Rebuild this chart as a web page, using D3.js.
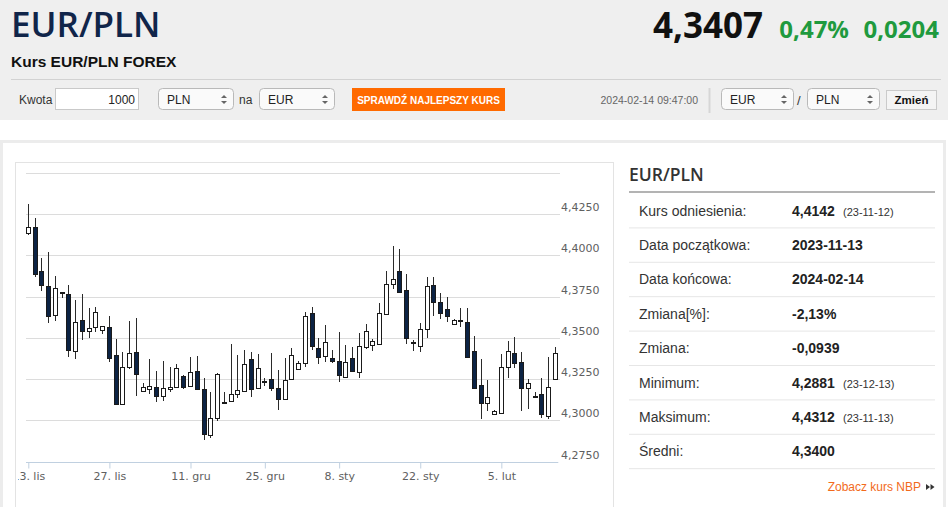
<!DOCTYPE html>
<html>
<head>
<meta charset="utf-8">
<script src="https://cdn.jsdelivr.net/npm/d3@7"></script>
<style>
  html, body { margin: 0; padding: 0; background: #fff; overflow: hidden; }
  svg { display: block; }
</style>
</head>
<body>
<div id="chart"></div>
<script>
// trading days (forex: Sunday to Friday)
const dates = [
  "2023-11-13","2023-11-14","2023-11-15","2023-11-16","2023-11-17","2023-11-19",
  "2023-11-20","2023-11-21","2023-11-22","2023-11-23","2023-11-24","2023-11-26",
  "2023-11-27","2023-11-28","2023-11-29","2023-11-30","2023-12-01","2023-12-03",
  "2023-12-04","2023-12-05","2023-12-06","2023-12-07","2023-12-08","2023-12-10",
  "2023-12-11","2023-12-12","2023-12-13","2023-12-14","2023-12-15","2023-12-17",
  "2023-12-18","2023-12-19","2023-12-20","2023-12-21","2023-12-22",
  "2023-12-25","2023-12-26","2023-12-27","2023-12-28","2023-12-29",
  "2024-01-01","2024-01-02","2024-01-03","2024-01-04","2024-01-05","2024-01-07",
  "2024-01-08","2024-01-09","2024-01-10","2024-01-11","2024-01-12","2024-01-14",
  "2024-01-15","2024-01-16","2024-01-17","2024-01-18","2024-01-19","2024-01-21",
  "2024-01-22","2024-01-23","2024-01-24","2024-01-25","2024-01-26","2024-01-28",
  "2024-01-29","2024-01-30","2024-01-31","2024-02-01","2024-02-02","2024-02-04",
  "2024-02-05","2024-02-06","2024-02-07","2024-02-08","2024-02-09","2024-02-11",
  "2024-02-12","2024-02-13","2024-02-14"
];

const openVals = [
  4.4135,4.4171,4.3906,4.3814,4.3636,4.3778,4.3765,4.3418,4.3607,4.3539,4.3565,4.3547,
  4.3565,4.3395,4.3101,4.3323,4.3413,4.3176,4.3190,4.3204,4.3145,4.3189,4.3201,4.3269,
  4.3210,4.3299,4.3188,4.2911,4.3016,4.3108,4.3115,4.3162,4.3180,4.3370,4.3198,
  4.3239,4.3253,4.3198,4.3127,4.3253,
  4.3311,4.3348,4.3649,4.3441,4.3388,4.3376,4.3360,4.3261,4.3376,4.3295,4.3445,4.3457,
  4.3463,4.3643,4.3829,4.3906,4.3789,4.3476,4.3451,4.3552,4.3821,4.3718,4.3674,4.3587,
  4.3609,4.3599,4.3422,4.3214,4.3103,4.3038,4.3042,4.3322,4.3406,4.3352,4.3194,4.3145,
  4.3158,4.3026,4.3249
];
const highVals = [
  4.4312,4.4226,4.3983,4.4020,4.3878,4.3780,4.3822,4.3731,4.3767,4.3684,4.3688,4.3575,
  4.3632,4.3494,4.3413,4.3601,4.3619,4.3228,4.3371,4.3299,4.3357,4.3324,4.3341,4.3276,
  4.3382,4.3388,4.3259,4.3174,4.3285,4.3170,4.3465,4.3394,4.3424,4.3413,4.3400,
  4.3259,4.3407,4.3307,4.3376,4.3437,
  4.3362,4.3659,4.3690,4.3502,4.3578,4.3425,4.3538,4.3457,4.3447,4.3528,4.3582,4.3494,
  4.3714,4.3908,4.4058,4.4040,4.3886,4.3486,4.3590,4.3868,4.3868,4.3771,4.3746,4.3615,
  4.3680,4.3684,4.3512,4.3372,4.3244,4.3062,4.3404,4.3482,4.3506,4.3413,4.3250,4.3174,
  4.3259,4.3382,4.3443
];
const lowVals = [
  4.4125,4.3872,4.3787,4.3589,4.3603,4.3741,4.3387,4.3371,4.3486,4.3498,4.3535,4.3523,
  4.3351,4.3090,4.3100,4.3311,4.3149,4.3174,4.3161,4.3113,4.3119,4.3169,4.3195,4.3190,
  4.3204,4.3186,4.2881,4.2891,4.2996,4.3103,4.3114,4.3137,4.3178,4.3139,4.3195,
  4.3211,4.3178,4.3062,4.3127,4.3252,
  4.3310,4.3323,4.3427,4.3340,4.3352,4.3346,4.3230,4.3260,4.3291,4.3255,4.3433,4.3421,
  4.3462,4.3642,4.3795,4.3775,4.3463,4.3421,4.3415,4.3502,4.3635,4.3613,4.3599,4.3586,
  4.3567,4.3382,4.3194,4.3008,4.3056,4.3037,4.3041,4.3255,4.3316,4.3056,4.3070,4.3142,
  4.3016,4.3006,4.3248
];
const closeVals = [
  4.4170,4.3888,4.3822,4.3630,4.3801,4.3779,4.3424,4.3599,4.3539,4.3559,4.3656,4.3571,
  4.3381,4.3100,4.3322,4.3407,4.3282,4.3200,4.3206,4.3145,4.3196,4.3204,4.3316,4.3204,
  4.3291,4.3192,4.2915,4.3016,4.3283,4.3110,4.3158,4.3182,4.3341,4.3188,4.3316,
  4.3240,4.3194,4.3127,4.3247,4.3394,
  4.3346,4.3635,4.3453,4.3386,4.3477,4.3358,4.3275,4.3352,4.3301,4.3453,4.3540,4.3484,
  4.3649,4.3829,4.3860,4.3777,4.3498,4.3477,4.3552,4.3815,4.3716,4.3653,4.3635,4.3607,
  4.3610,4.3382,4.3194,4.3103,4.3141,4.3058,4.3322,4.3418,4.3347,4.3194,4.3229,4.3142,
  4.3038,4.3204,4.3407
];

const yTicks = [4.275, 4.300, 4.325, 4.350, 4.375, 4.400, 4.425, 4.450];
const xTickDates = ["2023-11-13","2023-11-27","2023-12-11","2023-12-25","2024-01-08","2024-01-22","2024-02-05"];
const monthsPl = ["sty","lut","mar","kwi","maj","cze","lip","sie","wrz","paź","lis","gru"];

const statLabels = ["Kurs odniesienia:","Data początkowa:","Data końcowa:","Zmiana[%]:","Zmiana:","Minimum:","Maksimum:","Średni:"];
const statValues = ["4,4142","2023-11-13","2024-02-14","-2,13%","-0,0939","4,2881","4,4312","4,3400"];
const statDates  = ["(23-11-12)","","","","","(23-12-13)","(23-11-13)",""];

const W = 948, H = 507;
const svg = d3.select("#chart").append("svg")
  .attr("width", W).attr("height", H);

const sans = "'Liberation Sans', Arial, sans-serif";
const open = "'Open Sans', sans-serif";
const axisFont = "'DejaVu Sans', Verdana, sans-serif";

// ---------- header ----------
svg.append("rect").attr("x", 0).attr("y", 0).attr("width", W).attr("height", 120).attr("fill", "#efefef");

svg.append("text").attr("x", 11).attr("y", 37)
  .style("font-family", open).style("font-weight", 600).style("font-size", "35px")
  .attr("fill", "#10254a").text("EUR/PLN");
svg.append("text").attr("x", 11).attr("y", 67)
  .style("font-family", sans).style("font-weight", "bold").style("font-size", "15.5px")
  .attr("fill", "#111").text("Kurs EUR/PLN FOREX");

svg.append("line").attr("x1", 11).attr("x2", 941).attr("y1", 79.5).attr("y2", 79.5)
  .attr("stroke", "#d2d2d2");

// quote in the top right
const quote = [
  { t: "0,0204", x: 939, size: 24, color: "#1f9a3e" },
  { t: "0,47%", x: 849, size: 24, color: "#1f9a3e" },
  { t: "4,3407", x: 763, size: 35, color: "#111" }
];
quote.forEach(q => {
  svg.append("text").attr("x", q.x).attr("y", 38).attr("text-anchor", "end")
    .style("font-family", open).style("font-weight", 700).style("font-size", q.size + "px")
    .attr("fill", q.color).text(q.t);
});

// form controls
function selectBox(x, w, label) {
  const g = svg.append("g");
  g.append("rect").attr("x", x + 0.5).attr("y", 88.5).attr("width", w).attr("height", 21)
    .attr("rx", 4).attr("fill", "#fafafa").attr("stroke", "#b9b9b9");
  g.append("text").attr("x", x + 9).attr("y", 103.5)
    .style("font-family", sans).style("font-size", "12px").attr("fill", "#222").text(label);
  const ax = x + w - 9;
  g.append("path").attr("d", `M${ax - 3},98 L${ax},95 L${ax + 3},98 Z`).attr("fill", "#666");
  g.append("path").attr("d", `M${ax - 3},101 L${ax},104 L${ax + 3},101 Z`).attr("fill", "#666");
}

svg.append("text").attr("x", 19).attr("y", 104)
  .style("font-family", sans).style("font-size", "12px").attr("fill", "#333").text("Kwota");
svg.append("rect").attr("x", 55.5).attr("y", 88.5).attr("width", 83).attr("height", 21)
  .attr("fill", "#fff").attr("stroke", "#c9c9c9");
svg.append("text").attr("x", 135).attr("y", 104).attr("text-anchor", "end")
  .style("font-family", sans).style("font-size", "12px").attr("fill", "#222").text("1000");

selectBox(158, 75, "PLN");
svg.append("text").attr("x", 239).attr("y", 104)
  .style("font-family", sans).style("font-size", "12px").attr("fill", "#333").text("na");
selectBox(259, 75, "EUR");

svg.append("rect").attr("x", 352).attr("y", 88).attr("width", 153).attr("height", 23).attr("fill", "#ff6a00");
svg.append("text").attr("x", 428.5).attr("y", 103.5).attr("text-anchor", "middle")
  .style("font-family", sans).style("font-size", "10px").style("font-weight", 600).attr("fill", "#fff")
  .text("SPRAWDŹ NAJLEPSZY KURS");

svg.append("text").attr("x", 698).attr("y", 104).attr("text-anchor", "end")
  .style("font-family", sans).style("font-size", "10.5px").attr("fill", "#666")
  .text("2024-02-14 09:47:00");
svg.append("line").attr("x1", 709.5).attr("x2", 709.5).attr("y1", 88).attr("y2", 113)
  .attr("stroke", "#d6d6d6").attr("stroke-width", 2);

selectBox(721, 72, "EUR");
svg.append("text").attr("x", 797).attr("y", 105)
  .style("font-family", sans).style("font-size", "13px").attr("fill", "#333").text("/");
selectBox(807, 72, "PLN");

svg.append("rect").attr("x", 886.5).attr("y", 90.5).attr("width", 50).attr("height", 19)
  .attr("fill", "#f4f4f4").attr("stroke", "#cacaca");
svg.append("text").attr("x", 911.5).attr("y", 104).attr("text-anchor", "middle")
  .style("font-family", sans).style("font-weight", "bold").style("font-size", "11.5px")
  .attr("fill", "#111").text("Zmień");

// ---------- panels ----------
svg.append("rect").attr("x", 1.5).attr("y", 141.5).attr("width", 943).attr("height", 420)
  .attr("fill", "#fff").attr("stroke", "#ececec").attr("stroke-width", 3);
svg.append("rect").attr("x", 15.5).attr("y", 162.5).attr("width", 598).attr("height", 400)
  .attr("fill", "#fff").attr("stroke", "#e3e3e3");

svg.append("clipPath").attr("id", "plotClip")
  .append("rect").attr("x", 16).attr("y", 163).attr("width", 597).attr("height", 344);
// the first date label is cut by the plot container
svg.append("clipPath").attr("id", "labelClip")
  .append("rect").attr("x", 18).attr("y", 163).attr("width", 595).attr("height", 344);

const plot = svg.append("g").attr("clip-path", "url(#plotClip)");

// ---------- scales ----------
const x = d3.scalePoint().domain(dates).range([28.3, 555.4]);
const y = d3.scaleLinear().domain([4.275, 4.45]).range([461.5, 173.1]);

const fmtTick = d3.format(".4f");

// grid lines + y labels on the right
plot.append("g").selectAll("line")
  .data(yTicks.filter(v => v > 4.275))
  .join("line")
  .attr("x1", 26).attr("x2", 560)
  .attr("y1", d => Math.round(y(d)) + 0.5).attr("y2", d => Math.round(y(d)) + 0.5)
  .attr("stroke", "#dcdcdc");

plot.append("g").selectAll("text")
  .data(yTicks.filter(v => v < 4.45))
  .join("text")
  .attr("x", 561).attr("y", d => Math.round(y(d)) - 3)
  .style("font-family", axisFont).style("font-size", "11px").attr("fill", "#606060")
  .text(d => fmtTick(d).replace(".", ","));

// x axis
const xAxis = d3.axisBottom(x)
  .tickValues(xTickDates)
  .tickSize(6)
  .tickSizeOuter(0)
  .tickFormat(d => {
    const p = d.split("-");
    return (+p[2]) + ". " + monthsPl[+p[1] - 1];
  });

const gx = svg.append("g")
  .attr("clip-path", "url(#labelClip)")
  .append("g")
  .attr("transform", `translate(0, ${Math.round(y(4.275)) + 0.5})`)
  .call(xAxis);
gx.select(".domain").attr("d", "M26,0H558.3").attr("stroke", "#c0d0e0");
gx.selectAll(".tick line").attr("stroke", "#c0d0e0");
gx.selectAll(".tick text")
  .attr("y", 10)
  .style("font-family", axisFont).style("font-size", "11px").attr("fill", "#606060");

// ---------- candles ----------
const candles = dates.map((d, i) => ({
  date: d, o: openVals[i], h: highVals[i], l: lowVals[i], c: closeVals[i]
}));

const cg = plot.append("g").selectAll("g").data(candles).join("g");

cg.append("line")
  .attr("x1", d => Math.floor(x(d.date)) + 0.5)
  .attr("x2", d => Math.floor(x(d.date)) + 0.5)
  .attr("y1", d => Math.round(y(d.h)))
  .attr("y2", d => Math.round(y(d.l)))
  .attr("stroke", "#2a2a2a");

cg.append("rect")
  .attr("x", d => Math.floor(x(d.date)) - 1.5)
  .attr("width", 4)
  .attr("y", d => Math.round(y(Math.max(d.o, d.c))) + 0.5)
  .attr("height", d => Math.max(1, Math.round(y(Math.min(d.o, d.c))) - Math.round(y(Math.max(d.o, d.c)))))
  .attr("fill", d => d.c >= d.o ? "#fff" : "#0c2344")
  .attr("stroke", "#1a1a1a");

// ---------- stats table ----------
const tx = 629, tEnd = 935;
svg.append("text").attr("x", tx).attr("y", 181)
  .style("font-family", open).style("font-weight", 600).style("font-size", "17.5px")
  .attr("fill", "#333").text("EUR/PLN");
svg.append("line").attr("x1", tx).attr("x2", tEnd).attr("y1", 192).attr("y2", 192)
  .attr("stroke", "#b3b3b3").attr("stroke-width", 2);

const rowH = 34.4;
const rows = svg.append("g").selectAll("g").data(statLabels).join("g")
  .attr("transform", (d, i) => `translate(0, ${193 + i * rowH})`);

rows.append("line").attr("x1", tx).attr("x2", tEnd)
  .attr("y1", rowH + 0.5).attr("y2", rowH + 0.5).attr("stroke", "#e6e6e6");
rows.append("text").attr("x", 639).attr("y", 22.5)
  .style("font-family", sans).style("font-size", "14px").attr("fill", "#333")
  .text(d => d);
rows.append("text").attr("x", 792).attr("y", 22.5)
  .style("font-family", sans).style("font-weight", "bold").style("font-size", "14px").attr("fill", "#222")
  .text((d, i) => statValues[i]);
rows.append("text").attr("x", 843).attr("y", 22.5)
  .style("font-family", sans).style("font-size", "11px").attr("fill", "#333")
  .text((d, i) => statDates[i]);

svg.append("text").attr("x", 921).attr("y", 491).attr("text-anchor", "end")
  .style("font-family", sans).style("font-size", "12px").attr("fill", "#f26a1b")
  .text("Zobacz kurs NBP");
[926, 930.5].forEach(ax => {
  svg.append("path").attr("d", `M${ax},484 L${ax + 4},487 L${ax},490 Z`).attr("fill", "#333");
});
</script>
</body>
</html>
